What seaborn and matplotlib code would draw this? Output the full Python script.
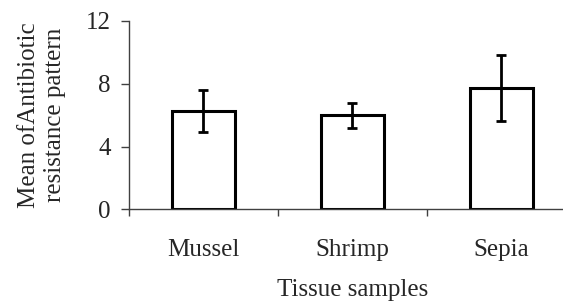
import pandas as pd
import numpy as np
import seaborn as sns
import matplotlib.pyplot as plt
from matplotlib.ticker import FixedLocator

# values
samples = ['Mussel', 'Shrimp', 'Sepia']
means = [6.25, 6.0, 7.75]
errors = [1.35, 0.8, 2.1]
y_ticks = [0, 4, 8, 12]

df = pd.DataFrame({'Tissue samples': samples, 'Mean': means, 'Err': errors})

sns.set_style('white')
plt.rcParams['font.family'] = ['Liberation Serif', 'DejaVu Serif']

fig = plt.figure(figsize=(5.63, 3.03), dpi=100)
ax = fig.add_axes([0.229, 0.309, 0.794, 0.622])

sns.barplot(x='Tissue samples', y='Mean', data=df, color='white', edgecolor='black',
            linewidth=2.2, width=0.42, errorbar=None, ax=ax)
ax.errorbar(range(len(samples)), df['Mean'], yerr=df['Err'], fmt='none',
            ecolor='black', elinewidth=2.0, capsize=3.8, capthick=2.0)

ax.set_xlim(-0.5, 2.5)
ax.set_ylim(0, 12)
ax.set_yticks(y_ticks)
ax.set_yticklabels([str(t) for t in y_ticks])

# category boundary tick marks on the x axis
ax.xaxis.set_minor_locator(FixedLocator([-0.5, 0.5, 1.5, 2.5]))
ax.tick_params(axis='x', which='major', length=0, pad=21, labelsize=18)
ax.tick_params(axis='x', which='minor', bottom=True, length=5, width=1, color='#404040', direction='out')
ax.tick_params(axis='y', left=True, length=6, width=1, color='#404040', direction='out', pad=7, labelsize=18)

for side in ['top', 'right']:
    ax.spines[side].set_visible(False)
for side in ['left', 'bottom']:
    ax.spines[side].set_color('#404040')
    ax.spines[side].set_linewidth(1.0)

ax.set_xlabel('Tissue samples', fontsize=18, labelpad=13)
ax.set_ylabel('Mean ofAntibiotic\nresistance pattern', fontsize=18, labelpad=14, linespacing=1.25)

plt.savefig('out.png', dpi=100)
